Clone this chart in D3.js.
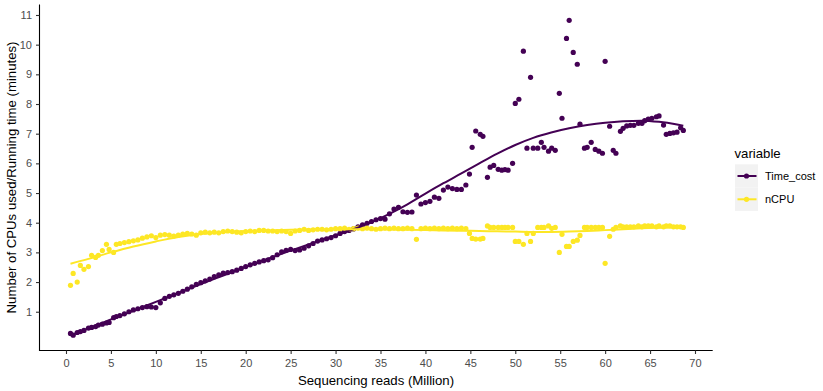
<!DOCTYPE html>
<html>
<head>
<meta charset="utf-8">
<script src="https://cdn.jsdelivr.net/npm/d3@7"></script>
<style>
  html, body { margin: 0; padding: 0; background: #ffffff; }
  svg { display: block; font-family: "Liberation Sans", Arial, sans-serif; }
</style>
</head>
<body>
<svg id="chart" width="823" height="391"></svg>
<script>
// ---------------- data ----------------
const reads = [
  0.5, 0.8, 1.25, 1.6, 2.0, 2.5, 2.85, 3.3, 3.6, 4.05, 4.5, 4.8, 5.3, 5.6,
  6.0, 6.5, 7.0, 7.5, 8.0, 8.5, 9.0, 9.5, 10.0, 10.5,
  11.0, 11.5, 12.0, 12.5, 13.0, 13.5, 14.0, 14.5, 15.0, 15.5,
  16.0, 16.5, 17.0, 17.5, 18.0, 18.5, 19.0, 19.5, 20.0, 20.5,
  21.0, 21.5, 22.0, 22.5, 23.0, 23.5, 24.0, 24.5, 25.0, 25.5,
  26.0, 26.5, 27.0, 27.5, 28.0, 28.5, 29.0, 29.5, 30.0, 30.5,
  31.0, 31.5, 32.0, 32.5, 33.0, 33.5, 34.0, 34.5, 35.0, 35.5,
  36.0, 36.5, 37.0, 37.5, 38.0, 38.5, 39.0, 39.5, 40.0, 40.5,
  41.0, 41.5, 42.0, 42.5, 43.0, 43.5, 44.0, 44.5,
  44.9, 45.2, 45.6, 46.1, 46.4, 46.9, 47.2, 47.6, 48.1, 48.5,
  48.85, 49.2, 49.7, 50.0, 50.4, 50.9, 51.3, 51.7, 52.0, 52.5,
  52.9, 53.2, 53.7, 54.05, 54.45, 54.9, 55.2, 55.7, 56.0, 56.45,
  56.9, 57.2, 57.7, 58.0, 58.45, 58.9, 59.3, 59.7, 60.0, 60.5,
  60.9, 61.2, 61.7, 62.0, 62.4, 62.8, 63.2, 63.7, 64.1, 64.4,
  64.8, 65.2, 65.7, 66.0, 66.5, 66.8, 67.2, 67.6, 68.0, 68.4,
  68.7
];

const timeCost = [
  0.27, 0.21, 0.30, 0.33, 0.37, 0.45, 0.47, 0.50, 0.55, 0.58, 0.62, 0.64, 0.80, 0.84,
  0.87, 0.93, 1.00, 1.06, 1.10, 1.14, 1.17, 1.16, 1.14, 1.30,
  1.45, 1.52, 1.57, 1.62, 1.69, 1.76, 1.84, 1.92, 1.98, 2.04,
  2.10, 2.18, 2.24, 2.30, 2.32, 2.35, 2.40, 2.46, 2.52, 2.58,
  2.63, 2.68, 2.72, 2.75, 2.82, 2.92, 3.02, 3.07, 3.10, 3.06,
  3.08, 3.14, 3.22, 3.30, 3.38, 3.42, 3.46, 3.50, 3.56, 3.64,
  3.70, 3.74, 3.79, 3.86, 3.93, 3.98, 4.04, 4.10, 4.14, 4.12,
  4.30, 4.46, 4.52, 4.37, 4.35, 4.36, 4.93, 4.63, 4.68, 4.72,
  4.86, 4.82, 5.10, 5.20, 5.15, 5.12, 5.12, 5.27,
  5.64, 6.54, 7.09, 6.98, 6.91, 5.53, 5.87, 5.93, 5.80, 5.77,
  5.79, 5.77, 6.00, 8.02, 8.16, 9.78, 6.51, 8.90, 6.51, 6.51,
  6.71, 6.54, 6.41, 6.51, 6.44, 8.36, 7.52, 10.21, 10.82, 9.74,
  9.34, 7.32, 6.51, 6.54, 6.71, 6.47, 6.41, 6.34, 9.44, 7.25,
  6.44, 6.34, 7.08, 7.18, 7.26, 7.28, 7.28, 7.35, 7.35, 7.44,
  7.49, 7.52, 7.57, 7.60, 7.29, 6.98, 7.01, 7.03, 7.05, 7.20,
  7.11
];

const nCPU = [
  1.89, 2.29, 2.00, 2.56, 2.43, 2.52, 2.90, 2.83, 2.90, 3.06, 3.27, 3.10, 3.00, 3.27,
  3.30, 3.33, 3.36, 3.39, 3.42, 3.48, 3.52, 3.56, 3.50, 3.58,
  3.60, 3.58, 3.55, 3.58, 3.62, 3.64, 3.62, 3.58, 3.66, 3.68,
  3.66, 3.68, 3.66, 3.70, 3.72, 3.70, 3.68, 3.66, 3.70, 3.72,
  3.70, 3.74, 3.74, 3.72, 3.72, 3.70, 3.72, 3.70, 3.64, 3.72,
  3.74, 3.78, 3.74, 3.76, 3.78, 3.78, 3.76, 3.78, 3.80, 3.80,
  3.82, 3.78, 3.80, 3.82, 3.80, 3.82, 3.80, 3.78, 3.80, 3.82,
  3.80, 3.82, 3.80, 3.80, 3.82, 3.80, 3.44, 3.80, 3.82, 3.80,
  3.82, 3.80, 3.82, 3.80, 3.82, 3.80, 3.82, 3.80,
  3.64, 3.47, 3.45, 3.45, 3.47, 3.89, 3.84, 3.84, 3.84, 3.84,
  3.84, 3.84, 3.84, 3.37, 3.37, 3.27, 3.64, 3.37, 3.64, 3.84,
  3.84, 3.84, 3.89, 3.81, 3.84, 3.00, 3.61, 3.20, 3.20, 3.37,
  3.41, 3.57, 3.84, 3.84, 3.84, 3.84, 3.84, 3.84, 2.63, 3.54,
  3.78, 3.84, 3.89, 3.86, 3.86, 3.86, 3.86, 3.89, 3.86, 3.89,
  3.89, 3.89, 3.86, 3.89, 3.86, 3.89, 3.89, 3.86, 3.86, 3.86,
  3.84
];

// smoothed (loess) trend values
const smoothReads = [
  0.5, 2.5, 5, 7.5, 10, 12.5, 15, 17.5, 20, 22.5, 25, 27.5, 30, 32, 34, 36, 38,
  40, 42, 44, 46, 48, 50, 52, 54, 56, 58, 60, 62, 64, 66, 68, 68.7
];
const timeCostSmooth = [
  0.20, 0.44, 0.74, 1.03, 1.33, 1.63, 1.93, 2.22, 2.51, 2.79, 3.06, 3.32, 3.58, 3.78, 4.02, 4.30, 4.62,
  4.98, 5.33, 5.66, 6.00, 6.33, 6.62, 6.86, 7.04, 7.18, 7.29, 7.37, 7.42, 7.44, 7.40, 7.31, 7.27
];
const nCPUSmooth = [
  2.62, 2.78, 3.00, 3.20, 3.37, 3.52, 3.62, 3.68, 3.72, 3.74, 3.76, 3.77, 3.78, 3.78, 3.78, 3.77, 3.76,
  3.75, 3.74, 3.73, 3.72, 3.71, 3.70, 3.69, 3.69, 3.70, 3.72, 3.75, 3.78, 3.81, 3.83, 3.85, 3.85
];

const seriesNames = ["Time_cost", "nCPU"];
const seriesColors = ["#440154", "#FDE725"];
const xTicks = [0, 5, 10, 15, 20, 25, 30, 35, 40, 45, 50, 55, 60, 65, 70];
const yTicks = [1, 2, 3, 4, 5, 6, 7, 8, 9, 10, 11];
const xTitle = "Sequencing reads (Million)";
const yTitle = "Number of CPUs used/Running time (minutes)";
const legendTitle = "variable";

// ---------------- chart ----------------
const svg = d3.select("#chart");
const x = d3.scaleLinear().domain([-2.97, 71.97]).range([39.3, 712.7]);
const y = d3.scaleLinear().domain([-0.32, 11.35]).range([350.9, 4.6]);

const series = [
  { vals: timeCost, smooth: timeCostSmooth },
  { vals: nCPU, smooth: nCPUSmooth }
].map((s, i) => ({
  name: seriesNames[i],
  color: seriesColors[i],
  points: reads.map((r, j) => [r, s.vals[j]]),
  fit: smoothReads.map((r, j) => [r, s.smooth[j]])
}));

// points
series.forEach(s => {
  svg.append("g").selectAll("circle").data(s.points).join("circle")
    .attr("cx", d => x(d[0]))
    .attr("cy", d => y(d[1]))
    .attr("r", 2.6)
    .attr("fill", s.color);
});

// smooth lines
const line = d3.line().x(d => x(d[0])).y(d => y(d[1])).curve(d3.curveMonotoneX);
series.forEach(s => {
  svg.append("path").attr("d", line(s.fit))
    .attr("fill", "none").attr("stroke", s.color).attr("stroke-width", 2);
});

// axes
const xAxis = svg.append("g").attr("transform", "translate(0,350.5)")
  .call(d3.axisBottom(x).tickValues(xTicks).tickSize(3.5).tickPadding(5).tickFormat(d3.format("d")));
const yAxis = svg.append("g").attr("transform", "translate(39.5,0)")
  .call(d3.axisLeft(y).tickValues(yTicks).tickSize(3.5).tickPadding(4).tickFormat(d3.format("d")));
[xAxis, yAxis].forEach(g => {
  g.select(".domain").attr("stroke", "#000").attr("stroke-width", 1.1);
  g.selectAll(".tick line").attr("stroke", "#333333").attr("stroke-width", 1.1);
  g.selectAll(".tick text").attr("fill", "#4D4D4D").attr("font-size", 11)
    .attr("font-family", "'Liberation Sans', Arial, sans-serif");
});
xAxis.select(".domain").attr("d", `M${x.range()[0]},0H${x.range()[1]}`);
yAxis.select(".domain").attr("d", `M0,${y.range()[0]}V${y.range()[1]}`);

// titles
svg.append("text").attr("x", 376).attr("y", 384.5).attr("text-anchor", "middle")
  .attr("font-size", 13.2).attr("fill", "#000").text(xTitle);
svg.append("text").attr("transform", "translate(16,177.5) rotate(-90)")
  .attr("text-anchor", "middle").attr("font-size", 13.2).attr("fill", "#000").text(yTitle);

// legend
const lg = svg.append("g");
lg.append("text").attr("x", 734.5).attr("y", 157.5).attr("font-size", 13.2).attr("fill", "#000").text(legendTitle);
series.forEach((s, i) => {
  const y0 = 164.3 + i * 23.3;
  lg.append("rect").attr("x", 735).attr("y", y0).attr("width", 23).attr("height", 23.3).attr("fill", "#F2F2F2");
  lg.append("line").attr("x1", 737.5).attr("x2", 756.5).attr("y1", y0 + 11.7).attr("y2", y0 + 11.7)
    .attr("stroke", s.color).attr("stroke-width", 2);
  lg.append("circle").attr("cx", 746.5).attr("cy", y0 + 11.7).attr("r", 2.6).attr("fill", s.color);
  lg.append("text").attr("x", 765).attr("y", y0 + 15.6).attr("font-size", 11).attr("fill", "#000").text(s.name);
});
</script>
</body>
</html>
